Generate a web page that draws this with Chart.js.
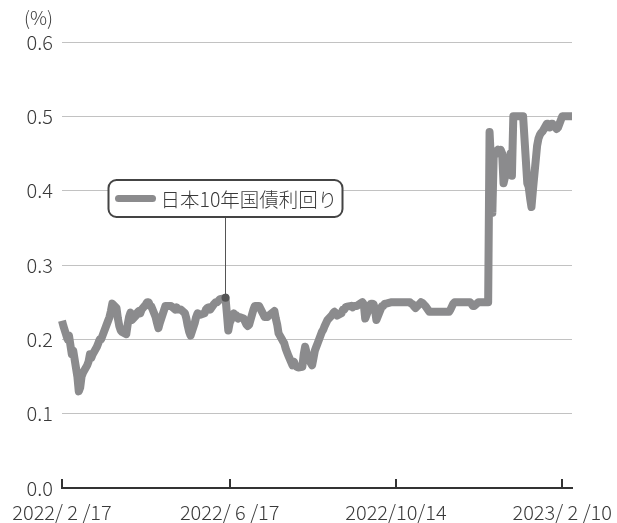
<!DOCTYPE html>
<html>
<head>
<meta charset="utf-8">
<script src="https://cdn.jsdelivr.net/npm/chart.js@4.4.1/dist/chart.umd.min.js"></script>
<style>
	html, body { margin: 0; padding: 0; background: #fff; }
</style>
</head>
<body>
<canvas id="chart-jgb-10y" width="617" height="523"></canvas>
<script>
// Dates (business days) and 10y JGB yield (%)
const DATES = [
	"2022-02-17", "2022-02-18", "2022-02-21", "2022-02-22", "2022-02-24", "2022-02-25", "2022-02-28",
	"2022-03-01", "2022-03-02", "2022-03-03", "2022-03-04", "2022-03-07", "2022-03-08", "2022-03-09", "2022-03-10", "2022-03-11", "2022-03-14", "2022-03-15", "2022-03-16", "2022-03-17", "2022-03-18", "2022-03-22", "2022-03-23", "2022-03-24", "2022-03-25", "2022-03-28", "2022-03-29", "2022-03-30", "2022-03-31",
	"2022-04-01", "2022-04-04", "2022-04-05", "2022-04-06", "2022-04-07", "2022-04-08", "2022-04-11", "2022-04-12", "2022-04-13", "2022-04-14", "2022-04-15", "2022-04-18", "2022-04-19", "2022-04-20", "2022-04-21", "2022-04-22", "2022-04-25", "2022-04-26", "2022-04-27", "2022-04-28",
	"2022-05-02", "2022-05-06", "2022-05-09", "2022-05-10", "2022-05-11", "2022-05-12", "2022-05-13", "2022-05-16", "2022-05-17", "2022-05-18", "2022-05-19", "2022-05-20", "2022-05-23", "2022-05-24", "2022-05-25", "2022-05-26", "2022-05-27", "2022-05-30", "2022-05-31",
	"2022-06-01", "2022-06-02", "2022-06-03", "2022-06-06", "2022-06-07", "2022-06-08", "2022-06-09", "2022-06-10", "2022-06-13", "2022-06-14", "2022-06-15", "2022-06-16", "2022-06-17", "2022-06-20", "2022-06-21", "2022-06-22", "2022-06-23", "2022-06-24", "2022-06-27", "2022-06-28", "2022-06-29", "2022-06-30",
	"2022-07-01", "2022-07-04", "2022-07-05", "2022-07-06", "2022-07-07", "2022-07-08", "2022-07-11", "2022-07-12", "2022-07-13", "2022-07-14", "2022-07-15", "2022-07-19", "2022-07-20", "2022-07-21", "2022-07-22", "2022-07-25", "2022-07-26", "2022-07-27", "2022-07-28", "2022-07-29",
	"2022-08-01", "2022-08-02", "2022-08-03", "2022-08-04", "2022-08-05", "2022-08-08", "2022-08-09", "2022-08-10", "2022-08-12", "2022-08-15", "2022-08-16", "2022-08-17", "2022-08-18", "2022-08-19", "2022-08-22", "2022-08-23", "2022-08-24", "2022-08-25", "2022-08-26", "2022-08-29", "2022-08-30", "2022-08-31",
	"2022-09-01", "2022-09-02", "2022-09-05", "2022-09-06", "2022-09-07", "2022-09-08", "2022-09-09", "2022-09-12", "2022-09-13", "2022-09-14", "2022-09-15", "2022-09-16", "2022-09-20", "2022-09-21", "2022-09-22", "2022-09-26", "2022-09-27", "2022-09-28", "2022-09-29", "2022-09-30",
	"2022-10-03", "2022-10-04", "2022-10-05", "2022-10-06", "2022-10-07", "2022-10-11", "2022-10-12", "2022-10-13", "2022-10-14", "2022-10-17", "2022-10-18", "2022-10-19", "2022-10-20", "2022-10-21", "2022-10-24", "2022-10-25", "2022-10-26", "2022-10-27", "2022-10-28", "2022-10-31",
	"2022-11-01", "2022-11-02", "2022-11-04", "2022-11-07", "2022-11-08", "2022-11-09", "2022-11-10", "2022-11-11", "2022-11-14", "2022-11-15", "2022-11-16", "2022-11-17", "2022-11-18", "2022-11-21", "2022-11-22", "2022-11-24", "2022-11-25", "2022-11-28", "2022-11-29", "2022-11-30",
	"2022-12-01", "2022-12-02", "2022-12-05", "2022-12-06", "2022-12-07", "2022-12-08", "2022-12-09", "2022-12-12", "2022-12-13", "2022-12-14", "2022-12-15", "2022-12-16", "2022-12-19", "2022-12-20", "2022-12-21", "2022-12-22", "2022-12-23", "2022-12-26", "2022-12-27", "2022-12-28", "2022-12-29", "2022-12-30",
	"2023-01-04", "2023-01-05", "2023-01-06", "2023-01-10", "2023-01-11", "2023-01-12", "2023-01-13", "2023-01-16", "2023-01-17", "2023-01-18", "2023-01-19", "2023-01-20", "2023-01-23", "2023-01-24", "2023-01-25", "2023-01-26", "2023-01-27", "2023-01-30", "2023-01-31",
	"2023-02-01", "2023-02-02", "2023-02-03", "2023-02-06", "2023-02-07", "2023-02-08", "2023-02-09", "2023-02-10", "2023-02-13", "2023-02-14", "2023-02-15", "2023-02-16", "2023-02-17",
];

const YIELDS = [
	0.225, 0.218, 0.2, 0.205, 0.18, 0.185, 0.15,
	0.13, 0.135, 0.15, 0.155, 0.165, 0.17, 0.18, 0.175, 0.18, 0.19, 0.195, 0.2, 0.2, 0.205, 0.225, 0.23, 0.238, 0.248, 0.242, 0.228, 0.218, 0.212,
	0.21, 0.207, 0.22, 0.23, 0.236, 0.226, 0.232, 0.236, 0.238, 0.235, 0.24, 0.247, 0.25, 0.25, 0.245, 0.244, 0.23, 0.222, 0.215, 0.222,
	0.245, 0.245, 0.24, 0.243, 0.24, 0.24, 0.24, 0.235, 0.228, 0.218, 0.21, 0.205, 0.222, 0.23, 0.235, 0.234, 0.233, 0.235, 0.24,
	0.242, 0.243, 0.24, 0.248, 0.25, 0.25, 0.252, 0.254, 0.255, 0.256, 0.235, 0.212, 0.222, 0.235, 0.23, 0.232, 0.228, 0.23, 0.228, 0.224, 0.22, 0.218,
	0.22, 0.24, 0.245, 0.245, 0.245, 0.245, 0.234, 0.23, 0.23, 0.23, 0.232, 0.238, 0.228, 0.22, 0.208, 0.198, 0.195, 0.188, 0.183, 0.178,
	0.165, 0.17, 0.165, 0.163, 0.162, 0.163, 0.18, 0.19, 0.175, 0.165, 0.175, 0.185, 0.19, 0.195, 0.21, 0.213, 0.218, 0.222, 0.226, 0.232, 0.235, 0.237,
	0.235, 0.232, 0.235, 0.24, 0.24, 0.243, 0.244, 0.245, 0.243, 0.245, 0.245, 0.245, 0.25, 0.247, 0.228, 0.248, 0.248, 0.247, 0.24, 0.226,
	0.24, 0.245, 0.245, 0.248, 0.248, 0.25, 0.25, 0.25, 0.25, 0.25, 0.25, 0.25, 0.25, 0.25, 0.25, 0.248, 0.247, 0.244, 0.242, 0.248,
	0.25, 0.249, 0.245, 0.237, 0.237, 0.237, 0.237, 0.237, 0.237, 0.237, 0.237, 0.237, 0.237, 0.237, 0.24, 0.248, 0.25, 0.25, 0.25, 0.25,
	0.25, 0.25, 0.25, 0.25, 0.248, 0.245, 0.245, 0.25, 0.25, 0.25, 0.25, 0.25, 0.25, 0.479, 0.44, 0.37, 0.45, 0.455, 0.45, 0.455, 0.45, 0.41,
	0.45, 0.42, 0.5, 0.5, 0.5, 0.5, 0.5, 0.41, 0.405, 0.39, 0.378, 0.4, 0.46, 0.47, 0.475, 0.478, 0.48, 0.49, 0.49,
	0.485, 0.49, 0.49, 0.483, 0.485, 0.49, 0.495, 0.5, 0.5, 0.5, 0.5, 0.5, 0.5,
];

const TICK_DATES = ["2022-02-17", "2022-06-17", "2022-10-14", "2023-02-10"];
const TICK_LABELS = ["2022/ 2 /17", "2022/ 6 /17", "2022/10/14", "2023/ 2 /10"];
const Y_TICKS = [0, 0.1, 0.2, 0.3, 0.4, 0.5, 0.6];
const SERIES_LABEL = "日本10年国債利回り";
const CALLOUT_DATE = "2022-06-14";
const UNIT_LABEL = "(%)";

const FONT = "'Noto Sans CJK JP', 'Noto Sans', sans-serif";
const TEXT_COLOR = "#3a3a3a";
const LINE_COLOR = "#8b8b8d";

// days since first date, used as x value
const dayOffset = (d) => Math.round((Date.parse(d) - Date.parse(DATES[0])) / 86400000);
const TICK_DAYS = TICK_DATES.map(dayOffset);

// Callout, unit label and inner tick marks
const extrasPlugin = {
	id: "extras",
	afterDatasetsDraw(chart) {
		const { ctx, chartArea, scales: { x, y } } = chart;

		// x-axis tick marks pointing up
		ctx.save();
		ctx.strokeStyle = "#333";
		ctx.lineWidth = 2;
		TICK_DAYS.forEach((d) => {
			const px = Math.round(x.getPixelForValue(d));
			ctx.beginPath();
			ctx.moveTo(px, chartArea.bottom);
			ctx.lineTo(px, chartArea.bottom - 9);
			ctx.stroke();
		});

		// callout
		const idx = DATES.indexOf(CALLOUT_DATE);
		const px = Math.round(x.getPixelForValue(dayOffset(CALLOUT_DATE))) + 0.5;
		const py = y.getPixelForValue(YIELDS[idx]);
		const boxW = 234;
		const boxH = 37;
		const boxX = px - boxW / 2;
		const boxY = Math.round(y.getPixelForValue(0.415));

		ctx.strokeStyle = "#555";
		ctx.lineWidth = 1;
		ctx.beginPath();
		ctx.moveTo(px, boxY + boxH);
		ctx.lineTo(px, py);
		ctx.stroke();

		ctx.fillStyle = "#555";
		ctx.beginPath();
		ctx.arc(px, py, 4, 0, Math.PI * 2);
		ctx.fill();

		ctx.fillStyle = "#fff";
		ctx.strokeStyle = "#444";
		ctx.lineWidth = 2;
		ctx.beginPath();
		ctx.roundRect(boxX, boxY, boxW, boxH, 8);
		ctx.fill();
		ctx.stroke();

		ctx.strokeStyle = LINE_COLOR;
		ctx.lineWidth = 7;
		ctx.lineCap = "round";
		ctx.beginPath();
		ctx.moveTo(boxX + 10, boxY + boxH / 2);
		ctx.lineTo(boxX + 44, boxY + boxH / 2);
		ctx.stroke();

		ctx.fillStyle = TEXT_COLOR;
		ctx.font = "300 19.5px " + FONT;
		ctx.textAlign = "left";
		ctx.textBaseline = "middle";
		ctx.fillText(SERIES_LABEL, boxX + 52, boxY + boxH / 2 + 1);

		// unit label
		ctx.font = "300 19px " + FONT;
		ctx.textAlign = "right";
		ctx.fillText(UNIT_LABEL, 53, 18);
		ctx.restore();
	},
};

const CHART_DATA = {
	datasets: [
		{
			label: SERIES_LABEL,
			data: DATES.map((d, i) => ({ x: dayOffset(d), y: YIELDS[i] })),
			borderColor: LINE_COLOR,
			borderWidth: 8,
			borderJoinStyle: "round",
			pointRadius: 0,
			tension: 0,
			fill: false,
			clip: false,
		},
	],
};

const CHART_CONFIG = {
	type: "line",
	data: CHART_DATA,
	plugins: [extrasPlugin],
	options: {
		responsive: false,
		animation: false,
		layout: {
			padding: { top: 42, right: 45, bottom: 0, left: 0 },
		},
		scales: {
			x: {
				type: "linear",
				min: 0,
				max: dayOffset(DATES[DATES.length - 1]),
				afterBuildTicks: (scale) => {
					scale.ticks = TICK_DAYS.map((v) => ({ value: v }));
				},
				afterFit: (scale) => {
					scale.height = 35;
					scale.paddingLeft = 0;
					scale.paddingRight = 0;
				},
				border: { display: true, color: "#333", width: 2 },
				grid: { display: false, drawTicks: false },
				ticks: {
					autoSkip: false,
					maxRotation: 0,
					padding: 12,
					color: TEXT_COLOR,
					font: { family: FONT, size: 20, weight: 300 },
					callback: (v) => TICK_LABELS[TICK_DAYS.indexOf(v)],
				},
			},
			y: {
				min: 0,
				max: 0.6,
				afterBuildTicks: (scale) => {
					scale.ticks = Y_TICKS.map((v) => ({ value: v }));
				},
				afterFit: (scale) => {
					scale.width = 62;
				},
				border: { display: false },
				grid: {
					color: (ctx) => (ctx.tick && ctx.tick.value === 0 ? "rgba(0,0,0,0)" : "#c2c2c2"),
					lineWidth: 1,
					drawTicks: false,
				},
				ticks: {
					padding: 9,
					color: TEXT_COLOR,
					font: { family: FONT, size: 20, weight: 300 },
					callback: (v) => v.toFixed(1),
				},
			},
		},
		plugins: {
			legend: { display: false },
			tooltip: { enabled: false },
		},
	},
};

new Chart(document.getElementById("chart-jgb-10y"), CHART_CONFIG);
</script>
</body>
</html>
